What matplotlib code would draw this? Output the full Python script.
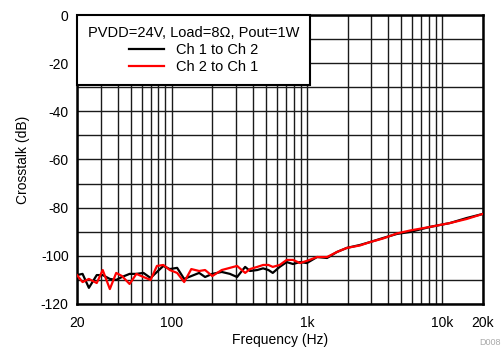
import numpy as np
import matplotlib
matplotlib.use("Agg")
import matplotlib.pyplot as plt
from matplotlib.ticker import FixedLocator, NullFormatter

plt.rcParams["font.family"] = ["Liberation Sans", "DejaVu Sans"]
plt.rcParams["axes.unicode_minus"] = False

# Crosstalk vs frequency
freq = [20, 22, 24.5, 28, 31, 35, 39, 43, 49, 55, 62, 70, 78, 87, 97,
        110, 124, 140, 160, 177, 200, 235, 270, 305, 350, 380, 430, 475,
        520, 560, 630, 710, 790, 890, 1000, 1190, 1410, 1670, 1980, 2470,
        2930, 3660, 4640, 5780, 8130, 11400, 15200, 20000]
ch1_to_ch2 = [-108.0, -107.5, -113.3, -108.0, -108.0, -109.6, -110.0, -108.8,
              -107.5, -107.5, -107.1, -109.2, -106.7, -104.2, -105.5, -105.0,
              -109.6, -108.4, -107.1, -108.8, -107.5, -106.7, -107.5, -108.8,
              -104.6, -106.3, -105.9, -105.2, -105.9, -107.1, -104.6, -102.6,
              -103.4, -102.6, -103.0, -100.5, -100.9, -98.4, -96.7, -95.5,
              -94.3, -92.6, -90.9, -90.1, -88.0, -86.4, -84.3, -82.6]
ch2_to_ch1 = [-108.0, -110.9, -109.6, -111.3, -105.9, -113.8, -107.1, -108.4,
              -111.7, -107.5, -108.8, -110.0, -104.2, -103.8, -105.9, -107.1,
              -110.9, -105.5, -106.3, -105.9, -108.4, -105.9, -105.0, -104.2,
              -107.1, -105.5, -104.6, -103.8, -103.8, -104.6, -103.8, -101.7,
              -101.7, -103.0, -102.1, -100.5, -100.5, -98.4, -96.7, -95.7,
              -94.3, -92.8, -90.7, -89.5, -88.0, -86.4, -84.7, -82.6]

xticks = [20, 100, 1000, 10000, 20000]
xticklabels = ["20", "100", "1k", "10k", "20k"]
yticks = [-120, -100, -80, -60, -40, -20, 0]

fig = plt.figure(figsize=(5.03, 3.49), dpi=100)
ax = fig.add_axes([0.153, 0.129, 0.807, 0.828])

ax.plot(freq, ch1_to_ch2, color="black", lw=1.6, label="Ch 1 to Ch 2", zorder=3)
ax.plot(freq, ch2_to_ch1, color="#ff0000", lw=1.6, label="Ch 2 to Ch 1", zorder=4)

ax.set_xscale("log")
ax.set_xlim(20, 20000)
ax.set_ylim(-120, 0)

# grid lines at every decade step and every 10 dB
minor_x = [m * d for d in (10, 100, 1000, 10000) for m in range(1, 10)
           if 20 < m * d < 20000]
ax.xaxis.set_major_locator(FixedLocator(xticks))
ax.set_xticklabels(xticklabels)
ax.xaxis.set_minor_locator(FixedLocator(minor_x))
ax.xaxis.set_minor_formatter(NullFormatter())
ax.set_yticks(yticks)
ax.yaxis.set_minor_locator(FixedLocator(list(range(-110, 0, 20))))
ax.grid(which="both", color="#1a1a1a", lw=1.0)
ax.tick_params(which="both", length=0, labelsize=10, pad=6)
ax.tick_params(axis="x", pad=9)

for s in ax.spines.values():
    s.set_linewidth(1.8)

ax.set_xlabel("Frequency (Hz)", fontsize=10, labelpad=2)
ax.set_ylabel("Crosstalk (dB)", fontsize=10, labelpad=8)

leg = ax.legend(title="PVDD=24V, Load=8\u03a9, Pout=1W", loc="upper left",
                borderaxespad=0, fancybox=False, framealpha=1,
                edgecolor="black", fontsize=10.5, title_fontsize=10.5,
                alignment="center", handlelength=2.4, labelspacing=0.2,
                borderpad=0.75)
leg.get_frame().set_linewidth(1.5)
leg.set_zorder(5)

fig.text(0.995, 0.012, "D008", color="#aaaaaa", fontsize=6.5, ha="right")

fig.savefig("out.png", dpi=100)
